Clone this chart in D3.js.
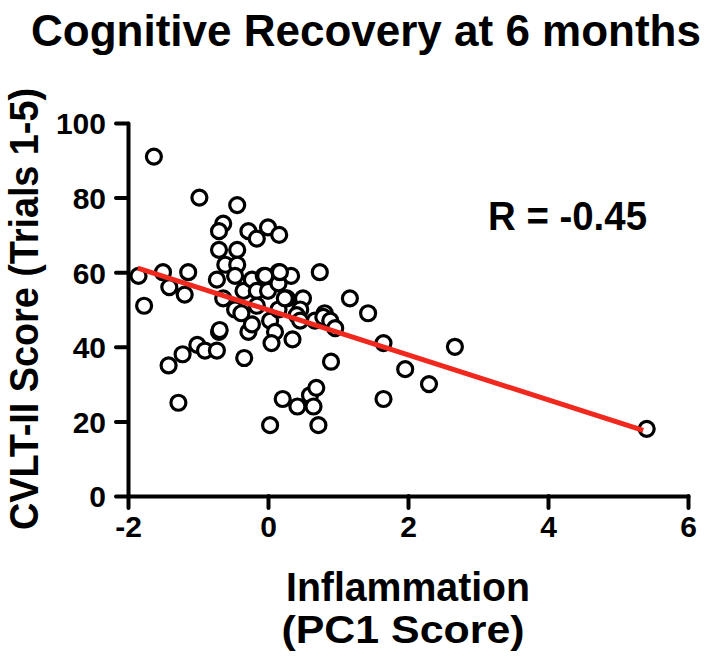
<!DOCTYPE html>
<html>
<head>
<meta charset="utf-8">
<script src="https://cdn.jsdelivr.net/npm/d3@7"></script>
<style>
  html, body { margin: 0; padding: 0; background: #fff; }
  svg { display: block; }
  text { font-family: "Liberation Sans", Arial, Helvetica, sans-serif; font-weight: bold; fill: #000; }
</style>
</head>
<body>
<svg id="chart" width="720" height="659"></svg>
<script>
// ---- Data ----
const chartTitle = "Cognitive Recovery at 6 months";
const xAxisLabel1 = "Inflammation";
const xAxisLabel2 = "(PC1 Score)";
const yAxisLabel = "CVLT-II Score (Trials 1-5)";
const rLabel = "R = -0.45";

const xTicks = [-2, 0, 2, 4, 6];
const yTicks = [0, 20, 40, 60, 80, 100];

// PC1 score (x) and CVLT-II score (y) of each subject
const pc1Score = [
  -1.63, -0.98, -1.85, -1.50, -1.14, -1.41, -1.19, -1.77, -1.01, -0.90,
  -1.22, -1.42, -1.28, -0.73, -0.70, -0.44, -0.64, -0.70, -0.70, -0.44,
  -0.61, -0.44, -0.73, -0.47, -0.64, -0.35, -0.47, -0.38, -0.34, -0.28,
  -0.23, -0.28, -0.16, 0.00, 0.16, -0.23, -0.06, 0.15, 0.12, 0.33,
  -0.16, 0.00, 0.15, 0.27, -0.16, 0.03, 0.15, 0.10, 0.05, 0.35,
  0.03, 0.21, 0.74, 0.50, 0.46, 0.41, 0.46, 0.67, 0.81, 0.79,
  0.89, 0.96, 0.90, 0.42, 0.60, 0.69, 0.65, 0.72, 1.17, 1.43,
  1.65, 2.67, 1.96, 2.30, 1.65, 5.41, -0.69, 0.17, 0.24, -0.04
];
const cvltScore = [
  91, 80, 59, 60, 60, 56, 54, 51, 40.5, 39,
  38, 35, 25, 39, 44, 78, 73, 71, 66, 66,
  62, 62, 58, 59, 53, 55, 50, 49, 37, 44,
  46, 71, 69, 72, 70, 58, 59, 60, 58, 59,
  55, 55, 57, 53, 51, 47, 50, 44, 41, 42,
  19, 26, 60, 53, 50, 48.5, 47, 47, 49, 48,
  47, 45, 36, 24, 27, 29, 24, 19, 53, 49,
  41, 40, 34, 30, 26, 18, 44.5, 60, 53, 59
];

// Regression line
const fitIntercept = 49.9;
const fitSlope = -6.03;
const fitXRange = [-1.86, 5.36];

// ---- Drawing ----
const svg = d3.select("#chart");
const x = d3.scaleLinear().domain([-2, 6]).range([128, 688]);
const y = d3.scaleLinear().domain([0, 100]).range([496, 123]);

const axisStroke = 4;
const tickFont = 30;

// Y axis
const gy = svg.append("g").attr("transform", `translate(${x(-2)},0)`)
  .call(d3.axisLeft(y).tickValues(yTicks).tickSize(12).tickSizeOuter(0).tickPadding(10).tickFormat(d3.format("d")));
gy.select(".domain").attr("stroke", "#000").attr("stroke-width", axisStroke).attr("stroke-linecap", "round");
gy.selectAll(".tick line").attr("stroke", "#000").attr("stroke-width", axisStroke).attr("stroke-linecap", "round");
gy.selectAll(".tick text").attr("font-size", tickFont).attr("font-family", "Liberation Sans, Arial, sans-serif").attr("font-weight", "bold").attr("fill", "#000").attr("dy", "0.36em");

// X axis
const gx = svg.append("g").attr("transform", `translate(0,${y(0)})`)
  .call(d3.axisBottom(x).tickValues(xTicks).tickSize(12).tickSizeOuter(0).tickPadding(7).tickFormat(d3.format("d")));
gx.select(".domain").attr("stroke", "#000").attr("stroke-width", axisStroke).attr("stroke-linecap", "round");
gx.selectAll(".tick line").attr("stroke", "#000").attr("stroke-width", axisStroke).attr("stroke-linecap", "round");
gx.selectAll(".tick text").attr("font-size", tickFont).attr("font-family", "Liberation Sans, Arial, sans-serif").attr("font-weight", "bold").attr("fill", "#000").attr("dy", "0.72em")
  .text(d => d < 0 ? "-" + Math.abs(d) : d);

// Points
const pts = pc1Score.map((v, i) => ({ x: v, y: cvltScore[i] }));
svg.append("g").selectAll("circle").data(pts).join("circle")
  .attr("cx", d => x(d.x)).attr("cy", d => y(d.y)).attr("r", 7.5)
  .attr("fill", "#fff").attr("stroke", "#000").attr("stroke-width", 3.2);

// Regression line
const fitPts = fitXRange.map(v => ({ x: v, y: fitIntercept + fitSlope * v }));
svg.append("path").datum(fitPts)
  .attr("d", d3.line().x(d => x(d.x)).y(d => y(d.y)))
  .attr("stroke", "#f0281e").attr("stroke-width", 5).attr("fill", "none");

// Texts
svg.append("text").attr("x", 366).attr("y", 46).attr("text-anchor", "middle")
  .attr("font-size", 44).text(chartTitle);

svg.append("text").attr("x", 408).attr("y", 601).attr("text-anchor", "middle")
  .attr("font-size", 40).attr("textLength", 244).attr("lengthAdjust", "spacingAndGlyphs").text(xAxisLabel1);
svg.append("text").attr("x", 403).attr("y", 643).attr("text-anchor", "middle")
  .attr("font-size", 39).attr("textLength", 243).attr("lengthAdjust", "spacingAndGlyphs").text(xAxisLabel2);

svg.append("text").attr("transform", "translate(38,309) rotate(-90)").attr("text-anchor", "middle")
  .attr("font-size", 40).attr("textLength", 442).attr("lengthAdjust", "spacingAndGlyphs").text(yAxisLabel);

svg.append("text").attr("x", 488).attr("y", 230).attr("text-anchor", "start")
  .attr("font-size", 40).attr("textLength", 159).attr("lengthAdjust", "spacingAndGlyphs").text(rLabel);
</script>
</body>
</html>
